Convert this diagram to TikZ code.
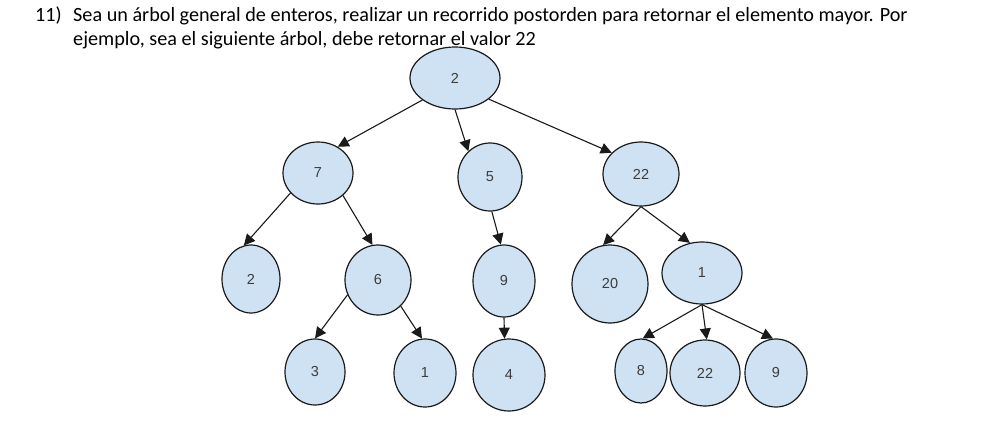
\documentclass[tikz,border=0pt]{standalone}
\usepackage{fontspec}
\setmainfont{Carlito}
\newfontfamily\labelfont{Liberation Sans}
\usetikzlibrary{shapes.geometric,arrows.meta}
\definecolor{nodefill}{HTML}{CFE2F3}
\definecolor{labelgray}{HTML}{3C3C3C}
\definecolor{edgeblack}{HTML}{1A1A1A}
\begin{document}
\begin{tikzpicture}[x=1pt,y=-1pt,
  treenode/.style={ellipse,draw=edgeblack,line width=1.2pt,fill=nodefill,inner sep=0pt,
    font=\labelfont\fontsize{14.5}{15}\selectfont,text=labelgray},
  edge/.style={draw=edgeblack,line width=1.1pt,-{Triangle[length=11pt,width=11pt]}},
  headtext/.style={anchor=base west,inner sep=0pt,font=\fontsize{20.2}{24}\selectfont,text=black}]
\useasboundingbox (0,0) rectangle (1004,439);
\fill[white] (0,0) rectangle (1004,439);
% header text
\node[headtext] (num) at (35,21) {11)};
\node[headtext] (l1) at (73,21) {Sea un árbol general de enteros, realizar un recorrido postorden para retornar el elemento mayor. Por};
\node[headtext] (l2) at (73,45) {ejemplo, sea el siguiente árbol, debe retornar el valor 22};
% nodes
\node[treenode,minimum width=90pt,minimum height=62pt] (r) at (455,78) {2};
\node[treenode,minimum width=70pt,minimum height=62pt] (a) at (318,173) {7};
\node[treenode,minimum width=64pt,minimum height=68pt] (b) at (490,177) {5};
\node[treenode,minimum width=76pt,minimum height=64pt] (c) at (641,174) {22};
\node[treenode,minimum width=58pt,minimum height=68pt] (a1) at (251,279) {2};
\node[treenode,minimum width=66pt,minimum height=70pt] (a2) at (378,280) {6};
\node[treenode,minimum width=62pt,minimum height=72pt] (b1) at (504,281) {9};
\node[treenode,minimum width=76pt,minimum height=78pt] (c1) at (610,284) {20};
\node[treenode,minimum width=80pt,minimum height=62pt] (c2) at (702,273) {1};
\node[treenode,minimum width=60pt,minimum height=66pt] (a21) at (315,372) {3};
\node[treenode,minimum width=62pt,minimum height=68pt] (a22) at (425,373) {1};
\node[treenode,minimum width=72pt,minimum height=72pt] (b11) at (509,375) {4};
\node[treenode,minimum width=52pt,minimum height=64pt] (c21) at (641,371) {8};
\node[treenode,minimum width=70pt,minimum height=66pt] (c22) at (705,373) {22};
\node[treenode,minimum width=62pt,minimum height=68pt] (c23) at (776,373) {9};
% edges
\draw[edge] (r.214) -- (a.53);
\draw[edge] (r.270) -- (b.130);
\draw[edge] (r.328) -- (c.144);
\draw[edge] (a.216) -- (a1.102);
\draw[edge] (a.318) -- (a2.99);
\draw[edge] (b.273) -- (b1.95);
\draw[edge] (a2.206) -- (a21.90);
\draw[edge] (a2.311) -- (a22.95);
\draw[edge] (b1.270) -- (b11.97);
\draw[edge] (c.270) -- (c1.100);
\draw[edge] (c.270) -- (c2.112);
\draw[edge] (c2.270) -- (c21.87);
\draw[edge] (c2.270) -- (c22.87);
\draw[edge] (c2.270) -- (c23.95);
\end{tikzpicture}
\end{document}
